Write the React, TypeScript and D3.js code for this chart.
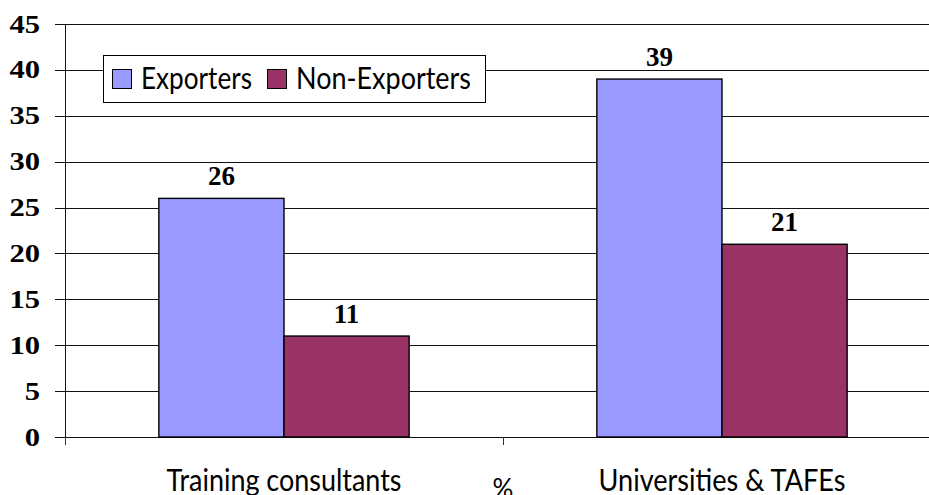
import React from "react";
import * as d3 from "d3";

const categories = ["Training consultants", "Universities & TAFEs"];
const seriesNames = ["Exporters", "Non-Exporters"];
const exporters = [26, 39];
const nonExporters = [11, 21];
const yTicks = [0, 5, 10, 15, 20, 25, 30, 35, 40, 45];
const axisTitle = "%";
const colors = ["#9999FF", "#993366"];

const W = 929;
const H = 495;
const left = 65;
const right = 941;
const top = 24;
const bottom = 437;

const catWidths = [235, 247];
const legendWidths = [111, 175];

export default function App() {
  const x = d3.scaleBand<string>().domain(categories).range([left, right]).paddingInner(0).paddingOuter(0);
  const y = d3.scaleLinear().domain([0, 45]).range([bottom, top]);
  const bw = x.bandwidth() / 3.5;
  const series = [exporters, nonExporters];
  const sans = "Lato, 'Open Sans', sans-serif";
  const serif = "'Liberation Serif', 'Times New Roman', serif";
  return (
    <svg width={W} height={H} style={{ position: "absolute", left: 0, top: 0 }}>
      <rect x={0} y={0} width={W} height={H} fill="#fff" />
      {yTicks.map((t) => (
        <g key={t}>
          <line x1={55} x2={right} y1={Math.round(y(t)) + 0.5} y2={Math.round(y(t)) + 0.5} stroke="#111" strokeWidth={1} />
          <text x={40} y={y(t) + 8.5} textAnchor="end" fontFamily={serif} fontWeight="bold" fontSize={25.5}
            textLength={String(t).length * 15.3} lengthAdjust="spacingAndGlyphs">{t}</text>
        </g>
      ))}
      <line x1={left + 0.5} x2={left + 0.5} y1={top} y2={bottom + 8} stroke="#111" />
      {[...categories.map((c) => x(c) as number), right].map((px, i) => (
        <line key={i} x1={Math.round(px) + 0.5} x2={Math.round(px) + 0.5} y1={bottom} y2={bottom + 8} stroke="#333" />
      ))}
      {categories.map((c, ci) => {
        const cx = (x(c) as number) + x.bandwidth() / 2;
        return (
          <g key={c}>
            {series.map((s, si) => {
              const bx = cx - bw + si * bw;
              return (
                <g key={si}>
                  <rect x={bx} y={y(s[ci])} width={bw} height={bottom - y(s[ci])} fill={colors[si]} stroke="#000" strokeWidth={1.4} />
                  <text x={bx + bw / 2} y={y(s[ci]) - 13} textAnchor="middle" fontFamily={serif} fontWeight="bold" fontSize={27}>{s[ci]}</text>
                </g>
              );
            })}
            <text x={cx} y={491} textAnchor="middle" fontFamily={sans} fontSize={30}
              textLength={catWidths[ci]} lengthAdjust="spacingAndGlyphs">{c}</text>
          </g>
        );
      })}
      <text x={x.range()[0] + x.bandwidth()} y={498} textAnchor="middle" fontFamily={sans} fontSize={26}>{axisTitle}</text>
      <rect x={103.5} y={55.5} width={382} height={47} fill="#fff" stroke="#000" />
      <rect x={112.5} y={69.5} width={19} height={19} fill={colors[0]} stroke="#000" />
      <text x={141} y={89.3} fontFamily={sans} fontSize={30} textLength={legendWidths[0]} lengthAdjust="spacingAndGlyphs">{seriesNames[0]}</text>
      <rect x={267.5} y={69.5} width={19} height={19} fill={colors[1]} stroke="#000" />
      <text x={296} y={89.3} fontFamily={sans} fontSize={30} textLength={legendWidths[1]} lengthAdjust="spacingAndGlyphs">{seriesNames[1]}</text>
    </svg>
  );
}
